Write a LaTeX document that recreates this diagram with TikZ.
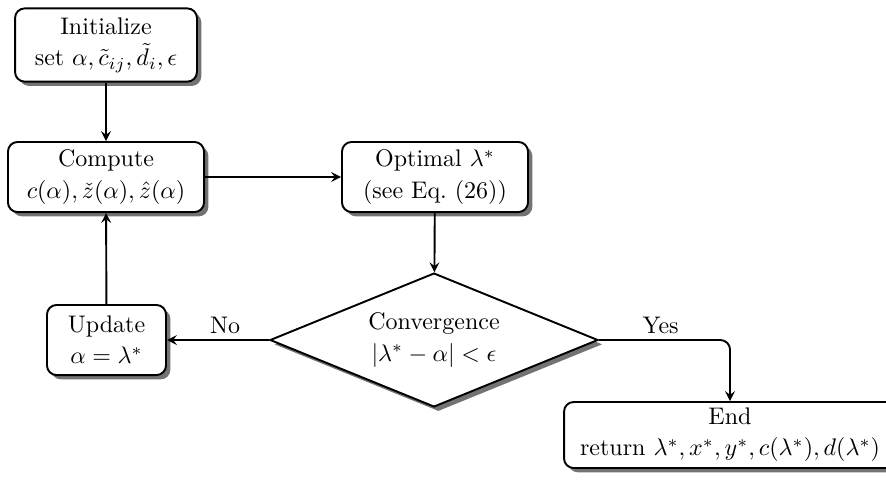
\documentclass[tikz,border=0pt]{standalone}
\usetikzlibrary{shapes.geometric,shadows,arrows}
\begin{document}
\begin{tikzpicture}[x=0.41667pt, y=-0.41667pt,
  procbox/.style={draw, thick, rounded corners=4pt, fill=white, align=center,
    drop shadow={shadow xshift=1.8pt, shadow yshift=-1.8pt, fill=black, opacity=0.55},
    inner sep=2pt},
  decbox/.style={draw, thick, diamond, fill=white, align=center, aspect=2.45,
    inner sep=0pt, minimum width=136.7pt, minimum height=55.8pt,
    drop shadow={shadow xshift=1.8pt, shadow yshift=-1.8pt, fill=black, opacity=0.55}},
  flow/.style={thick, -stealth},
  lbl/.style={inner sep=2pt}]
  \useasboundingbox (0,0) rectangle (886,480);

  % process steps
  \node[procbox, minimum width=75.8pt, minimum height=30.5pt] (init) at (106,45)
    {Initialize\\[1pt] set $\alpha, \tilde{c}_{ij}, \tilde{d}_i, \epsilon$};
  \node[procbox, minimum width=81.7pt, minimum height=29.2pt] (comp) at (106,177)
    {Compute\\[1pt] $c(\alpha), \check{z}(\alpha), \hat{z}(\alpha)$};
  \node[procbox, minimum width=77.5pt, minimum height=29.2pt] (opt) at (435,177)
    {Optimal $\lambda^*$\\[1pt] (see Eq.~(26))};
  \node[decbox] (conv) at (434,340)
    {Convergence\\[1pt] $|\lambda^* - \alpha| < \epsilon$};
  \node[procbox, minimum width=49.6pt, minimum height=29.2pt] (upd) at (106.5,340)
    {Update\\[1pt] $\alpha = \lambda^*$};
  \node[procbox, minimum width=138.3pt, minimum height=27.5pt] (fin) at (730,435)
    {End\\[1pt] return $\lambda^*, x^*, y^*, c(\lambda^*), d(\lambda^*)$};

  % connectors
  \draw[flow] (init) -- (comp);
  \draw[flow] (comp) -- (opt);
  \draw[flow] (opt) -- (conv);
  \draw[flow] (conv.west) -- node[lbl, above, pos=0.43] {No} (upd.east);
  \draw[flow, rounded corners=4pt] (conv.east) -| node[lbl, above, pos=0.235] {Yes} (fin.north);
  \draw[flow] (upd) -- (comp);
\end{tikzpicture}
\end{document}
